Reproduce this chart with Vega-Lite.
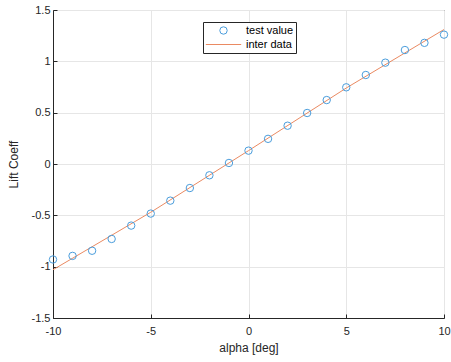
{
  "$schema": "https://vega.github.io/schema/vega-lite/v6.json",
  "width": 391,
  "height": 308,
  "autosize": "none",
  "padding": {"left": 53, "top": 10, "right": 7, "bottom": 44},
  "config": {
    "font": "Liberation Sans",
    "view": {"stroke": "#262626", "strokeWidth": 1},
    "axis": {
      "labelFont": "Liberation Sans",
      "titleFont": "Liberation Sans",
      "labelFontSize": 11,
      "titleFontSize": 12,
      "titleFontWeight": "normal",
      "labelColor": "#262626",
      "titleColor": "#262626",
      "domainColor": "#262626",
      "tickColor": "#262626",
      "gridColor": "#e6e6e6",
      "gridOpacity": 1,
      "tickSize": -4,
      "labelFlush": false
    }
  },
  "datasets": {
    "pts": [
      {"alpha": -10, "cl": -0.93, "series": "test value"},
      {"alpha": -9, "cl": -0.895, "series": "test value"},
      {"alpha": -8, "cl": -0.845, "series": "test value"},
      {"alpha": -7, "cl": -0.73, "series": "test value"},
      {"alpha": -6, "cl": -0.6, "series": "test value"},
      {"alpha": -5, "cl": -0.483, "series": "test value"},
      {"alpha": -4, "cl": -0.357, "series": "test value"},
      {"alpha": -3, "cl": -0.234, "series": "test value"},
      {"alpha": -2, "cl": -0.11, "series": "test value"},
      {"alpha": -1, "cl": 0.01, "series": "test value"},
      {"alpha": 0, "cl": 0.13, "series": "test value"},
      {"alpha": 1, "cl": 0.245, "series": "test value"},
      {"alpha": 2, "cl": 0.373, "series": "test value"},
      {"alpha": 3, "cl": 0.497, "series": "test value"},
      {"alpha": 4, "cl": 0.623, "series": "test value"},
      {"alpha": 5, "cl": 0.747, "series": "test value"},
      {"alpha": 6, "cl": 0.867, "series": "test value"},
      {"alpha": 7, "cl": 0.987, "series": "test value"},
      {"alpha": 8, "cl": 1.11, "series": "test value"},
      {"alpha": 9, "cl": 1.18, "series": "test value"},
      {"alpha": 10, "cl": 1.26, "series": "test value"}
    ],
    "fit": [
      {"alpha": -10, "cl": -1.03, "series": "inter data"},
      {"alpha": -5, "cl": -0.47, "series": "inter data"},
      {"alpha": 0, "cl": 0.13, "series": "inter data"},
      {"alpha": 5, "cl": 0.74, "series": "inter data"},
      {"alpha": 10, "cl": 1.31, "series": "inter data"}
    ]
  },
  "encoding": {
    "x": {
      "field": "alpha", "type": "quantitative",
      "scale": {"domain": [-10, 10], "nice": false, "zero": false},
      "axis": {"values": [-10, -5, 0, 5, 10], "title": "alpha [deg]", "labelExpr": "toString(datum.value)", "labelPadding": 11, "titlePadding": 6}
    },
    "y": {
      "field": "cl", "type": "quantitative",
      "scale": {"domain": [-1.5, 1.5], "nice": false, "zero": false},
      "axis": {"values": [-1.5, -1, -0.5, 0, 0.5, 1, 1.5], "title": "Lift Coeff", "labelExpr": "toString(datum.value)", "labelPadding": 7, "titlePadding": 11}
    },
    "color": {
      "field": "series", "type": "nominal",
      "scale": {"domain": ["test value", "inter data"], "range": ["#4a9ddc", "#ea8a62"]},
      "legend": {
        "title": null, "orient": "none", "legendX": 150, "legendY": 12,
        "fillColor": "white", "strokeColor": "#262626", "padding": 2,
        "labelFontSize": 11, "labelColor": "#000000", "rowPadding": 1,
        "clipHeight": 13, "labelOffset": 4,
        "symbolStrokeWidth": 1
      }
    }
  },
  "layer": [
    {
      "data": {"name": "fit"},
      "mark": {"type": "line", "strokeWidth": 1}
    },
    {
      "data": {"name": "pts"},
      "mark": {"type": "point", "filled": false, "strokeWidth": 1, "opacity": 1},
      "encoding": {
        "shape": {"field": "series", "type": "nominal", "scale": {"domain": ["test value", "inter data"], "range": ["circle", "stroke"]}},
        "size": {"field": "series", "type": "nominal", "scale": {"domain": ["test value", "inter data"], "range": [55, 1250]}}
      }
    }
  ]
}
